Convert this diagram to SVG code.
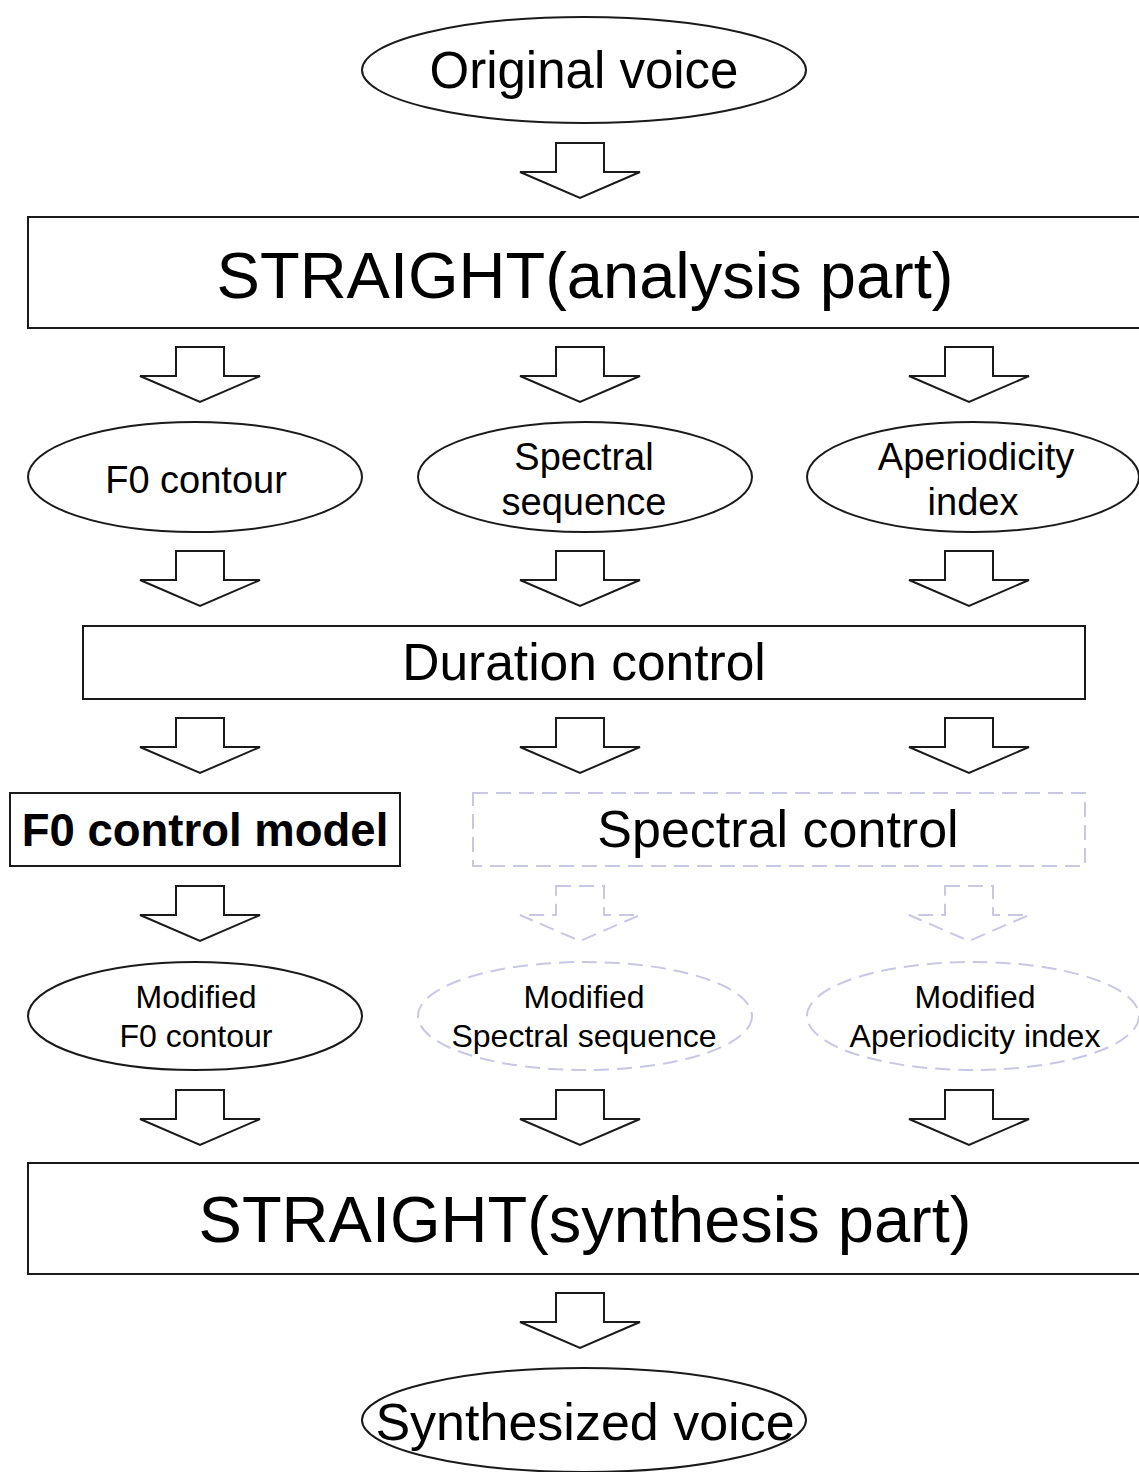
<svg xmlns="http://www.w3.org/2000/svg" width="1139" height="1472" viewBox="0 0 1139 1472">
<style>
.s{fill:#fff;stroke:#1a1a1a;stroke-width:2}
.d{fill:#fff;stroke:#c8c8e4;stroke-width:2;stroke-dasharray:15 8}
.t{font-family:"Liberation Sans",Arial,sans-serif;fill:#000;text-anchor:middle}
.b{font-weight:bold}
</style>
<defs>
<path id="arr" d="M-24 0 L24 0 L24 29 L60 29 L0 55 L-60 29 L-24 29 Z"/>
</defs>
<rect width="1139" height="1472" fill="#fff"/>
<g id="connectors">
<use href="#arr" class="s" x="580" y="143"/>
<use href="#arr" class="s" x="200" y="347"/>
<use href="#arr" class="s" x="580" y="347"/>
<use href="#arr" class="s" x="969" y="347"/>
<use href="#arr" class="s" x="200" y="551"/>
<use href="#arr" class="s" x="580" y="551"/>
<use href="#arr" class="s" x="969" y="551"/>
<use href="#arr" class="s" x="200" y="718"/>
<use href="#arr" class="s" x="580" y="718"/>
<use href="#arr" class="s" x="969" y="718"/>
<use href="#arr" class="s" x="200" y="886"/>
<use href="#arr" class="d" x="580" y="886"/>
<use href="#arr" class="d" x="969" y="886"/>
<use href="#arr" class="s" x="200" y="1090"/>
<use href="#arr" class="s" x="580" y="1090"/>
<use href="#arr" class="s" x="969" y="1090"/>
<use href="#arr" class="s" x="580" y="1293"/>
</g>
<g id="original">
<ellipse class="s" cx="584" cy="70" rx="222" ry="53"/>
<text class="t" x="584" y="88" font-size="51">Original voice</text>
</g>
<g id="analysis">
<rect class="s" x="28" y="217" width="1112" height="111"/>
<text class="t" x="585" y="298" font-size="65">STRAIGHT(analysis part)</text>
</g>
<g id="f0contour">
<ellipse class="s" cx="195" cy="477" rx="167" ry="55"/>
<text class="t" x="196" y="493" font-size="38">F0 contour</text>
</g>
<g id="spectral">
<ellipse class="s" cx="585" cy="477" rx="167" ry="55"/>
<text class="t" x="584" y="470" font-size="38">Spectral</text>
<text class="t" x="584" y="515" font-size="38">sequence</text>
</g>
<g id="aperiodicity">
<ellipse class="s" cx="973" cy="477" rx="166" ry="55"/>
<text class="t" x="976" y="470" font-size="38">Aperiodicity</text>
<text class="t" x="973" y="515" font-size="38">index</text>
</g>
<g id="duration">
<rect class="s" x="83" y="626" width="1002" height="73"/>
<text class="t" x="584" y="680" font-size="51.5">Duration control</text>
</g>
<g id="f0model">
<rect class="s" x="10" y="793" width="390" height="73"/>
<text class="t b" x="205" y="846" font-size="45.5">F0 control model</text>
</g>
<g id="spectralcontrol">
<rect class="d" x="473" y="793" width="612" height="73"/>
<text class="t" x="778" y="847" font-size="52">Spectral control</text>
</g>
<g id="modf0">
<ellipse class="s" cx="195" cy="1016" rx="167" ry="54"/>
<text class="t" x="196" y="1008" font-size="32">Modified</text>
<text class="t" x="196" y="1047" font-size="32">F0 contour</text>
</g>
<g id="modspectral">
<ellipse class="d" cx="585" cy="1016" rx="167" ry="54"/>
<text class="t" x="584" y="1008" font-size="32">Modified</text>
<text class="t" x="584" y="1047" font-size="32">Spectral sequence</text>
</g>
<g id="modaperiodicity">
<ellipse class="d" cx="973" cy="1016" rx="166" ry="54"/>
<text class="t" x="975" y="1008" font-size="32">Modified</text>
<text class="t" x="975" y="1047" font-size="32">Aperiodicity index</text>
</g>
<g id="synthesis">
<rect class="s" x="28" y="1163" width="1112" height="111"/>
<text class="t" x="585" y="1242" font-size="65">STRAIGHT(synthesis part)</text>
</g>
<g id="synthesized">
<ellipse class="s" cx="584" cy="1420" rx="222" ry="52"/>
<text class="t" x="585" y="1440" font-size="52">Synthesized voice</text>
</g>
</svg>
